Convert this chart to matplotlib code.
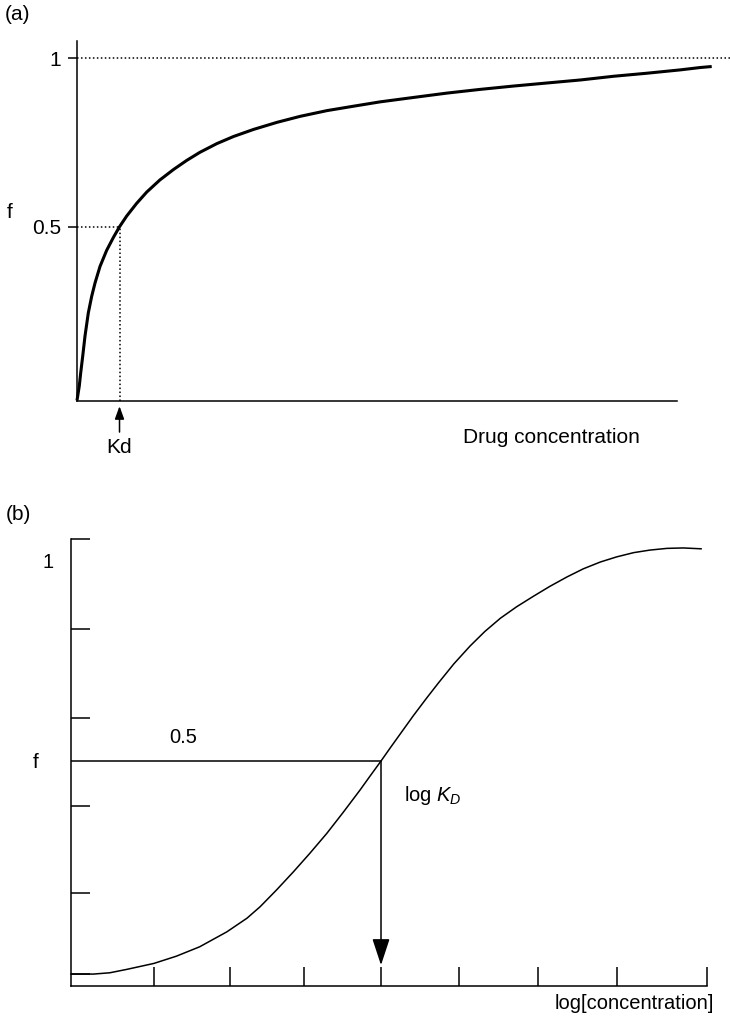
import matplotlib
matplotlib.use("Agg")
import matplotlib.pyplot as plt
from matplotlib import rcParams

rcParams.update({
    "font.family": ["Liberation Sans", "DejaVu Sans"],
    "mathtext.fontset": "custom",
    "mathtext.rm": "Liberation Sans",
    "mathtext.it": "Liberation Sans:italic",
})

# (a) fraction bound vs drug concentration (units of Kd)
conc_a = [0.0, 0.054, 0.087, 0.134, 0.188, 0.266, 0.345, 0.424, 0.541, 0.698, 0.855, 1.0,
          1.17, 1.40, 1.64, 1.95, 2.27, 2.58, 2.89, 3.29, 3.68, 4.15, 4.70, 5.25, 5.88,
          6.50, 7.13, 7.91, 8.70, 9.48, 10.27, 11.05, 11.84, 12.62, 13.40, 14.19, 14.66, 14.93]
frac_a = [-0.016, 0.027, 0.066, 0.115, 0.175, 0.244, 0.293, 0.333, 0.382, 0.430, 0.468, 0.5,
          0.532, 0.569, 0.603, 0.639, 0.670, 0.697, 0.721, 0.747, 0.768, 0.789, 0.810, 0.828, 0.845,
          0.858, 0.871, 0.884, 0.897, 0.908, 0.918, 0.927, 0.936, 0.947, 0.956, 0.966, 0.973, 0.976]
kd_a = 1.0
yticks_a = [0.5, 1]
ytick_labels_a = ["0.5", "1"]

# (b) fraction bound vs log concentration
logc_b = [0.0, 0.29, 0.50, 0.72, 1.07, 1.36, 1.66, 2.01, 2.27, 2.44, 2.65, 2.87, 3.08, 3.30,
          3.51, 3.73, 3.86, 4.0, 4.12, 4.25, 4.42, 4.59, 4.74, 4.94, 5.15, 5.34, 5.54, 5.75,
          5.97, 6.18, 6.40, 6.61, 6.83, 7.04, 7.26, 7.47, 7.69, 7.90, 8.13]
frac_b = [0.0, 0.0, 0.003, 0.011, 0.025, 0.042, 0.064, 0.099, 0.131, 0.158, 0.197, 0.240, 0.283, 0.330,
          0.379, 0.432, 0.465, 0.5, 0.531, 0.564, 0.607, 0.648, 0.683, 0.728, 0.770, 0.804, 0.835, 0.862,
          0.887, 0.910, 0.932, 0.951, 0.967, 0.979, 0.989, 0.995, 0.999, 1.0, 0.998]
log_kd_b = 4.0
xticks_b = [1.07, 2.05, 3.0, 4.0, 5.0, 6.03, 7.05, 8.2]
yticks_b = [0.0, 0.19, 0.395, 0.60, 0.81, 1.02]

fig = plt.figure(figsize=(7.3, 10.17), dpi=100)

# ---------- panel (a) ----------
ax1 = fig.add_axes([77 / 730, 1 - 401 / 1017, 653 / 730, 360 / 1017])
ax1.set_xlim(0, 15.36)
ax1.set_ylim(-0.0177, 1.0518)
for s in ["top", "right"]:
    ax1.spines[s].set_visible(False)
for s in ["left", "bottom"]:
    ax1.spines[s].set_linewidth(1.1)
ax1.spines["bottom"].set_bounds(0, 14.12)

ax1.plot(conc_a, frac_a, color="black", lw=2.2, solid_capstyle="butt",
         solid_joinstyle="round", clip_on=False)

dots = (0, (1, 1.6))
ax1.plot([0, 15.36], [1, 1], color="black", lw=1.1, linestyle=dots, clip_on=False)
ax1.plot([0, kd_a], [0.5, 0.5], color="black", lw=1.1, linestyle=dots)
ax1.plot([kd_a, kd_a], [-0.0177, 0.5], color="black", lw=1.1, linestyle=dots)

ax1.set_xticks([])
ax1.set_yticks(yticks_a)
ax1.set_yticklabels(ytick_labels_a, fontsize=15)
ax1.tick_params(axis="y", direction="out", length=6.5, width=1.1, pad=5)

ax1.annotate("", xy=(kd_a, -0.033), xytext=(kd_a, -0.11), xycoords="data",
             arrowprops=dict(arrowstyle="-|>,head_length=0.55,head_width=0.2",
                             mutation_scale=14, lw=1.1, color="black",
                             shrinkA=0, shrinkB=0), annotation_clip=False)
ax1.text(kd_a, -0.157, "Kd", fontsize=15, ha="center", va="center")
ax1.text(11.17, -0.125, "Drug concentration", fontsize=15, ha="center", va="center")

fig.text(18 / 730, 1 - 15 / 1017, "(a)", fontsize=15, ha="center", va="center")
fig.text(10 / 730, 1 - 212 / 1017, "f", fontsize=15, ha="center", va="center")

# ---------- panel (b) ----------
ax2 = fig.add_axes([71 / 730, 1 - 986 / 1017, 649 / 730, 447 / 1017])
ax2.set_xlim(0, 8.374)
ax2.set_ylim(-0.028, 1.021)
for s in ["top", "right"]:
    ax2.spines[s].set_visible(False)
for s in ["left", "bottom"]:
    ax2.spines[s].set_linewidth(1.1)
ax2.spines["bottom"].set_bounds(0, 8.2)

ax2.plot(logc_b, frac_b, color="black", lw=1.1, solid_joinstyle="round", clip_on=False)

ax2.set_xticks(xticks_b)
ax2.set_yticks(yticks_b)
ax2.set_xticklabels([])
ax2.set_yticklabels([])
ax2.tick_params(axis="both", direction="in", length=13.5, width=1.1)

ax2.plot([0, log_kd_b], [0.5, 0.5], color="black", lw=1.1)
ax2.annotate("", xy=(log_kd_b, 0.021), xytext=(log_kd_b, 0.5),
             arrowprops=dict(arrowstyle="-|>,head_length=0.82,head_width=0.27",
                             mutation_scale=20, lw=1.1, color="black",
                             shrinkA=0, shrinkB=0))

ax2.text(1.45, 0.554, "0.5", fontsize=14.5, ha="center", va="center")
ax2.text(-0.30, 0.967, "1", fontsize=14.5, ha="center", va="center", clip_on=False)
ax2.text(4.3, 0.42, "log $K_D$", fontsize=14.5, ha="left", va="center")
ax2.text(8.30, -0.068, "log[concentration]", fontsize=14.5, ha="right", va="center",
         clip_on=False)

fig.text(18 / 730, 1 - 515 / 1017, "(b)", fontsize=15, ha="center", va="center")
fig.text(36 / 730, 1 - 763 / 1017, "f", fontsize=15, ha="center", va="center")

fig.savefig("out.png", dpi=100)
